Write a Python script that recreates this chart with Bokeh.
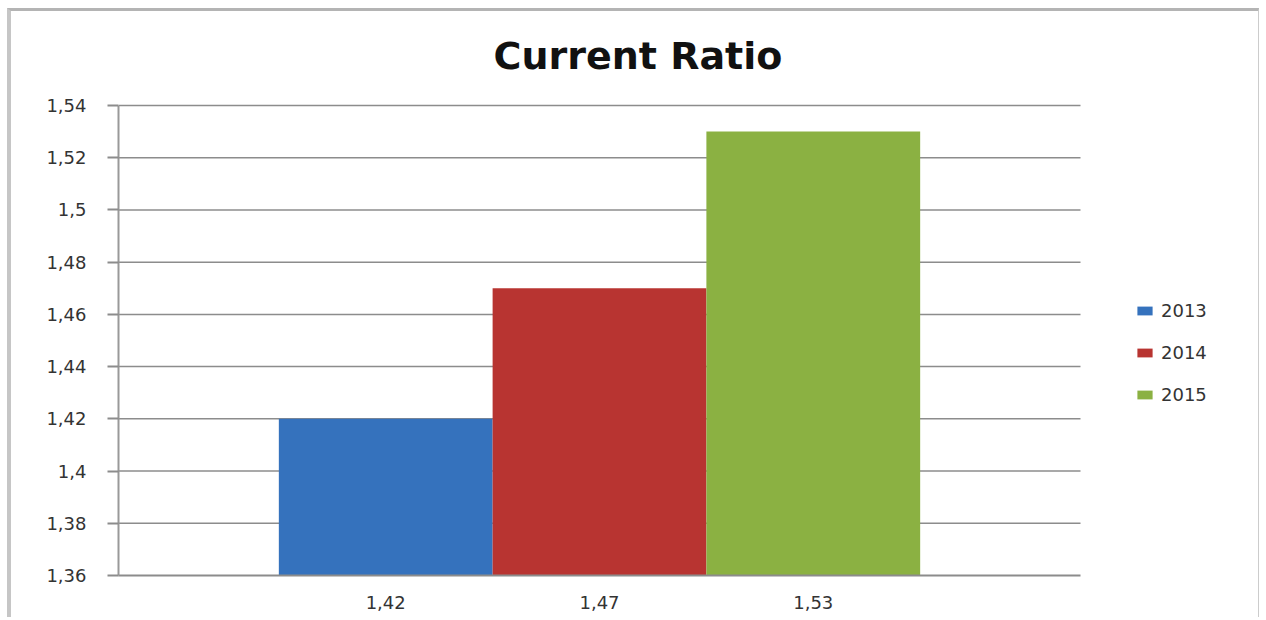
from bokeh.plotting import figure
from bokeh.models import Range1d, FixedTicker, Legend, LegendItem, ColumnDataSource, Label
from bokeh.embed import file_html
from bokeh.resources import INLINE

# ---- data ----
title_text = "Current Ratio"
years = ["2013", "2014", "2015"]
values = [1.42, 1.47, 1.53]
x_labels = ["1,42", "1,47", "1,53"]
colors = ["#3572bd", "#b83431", "#8bb142"]
y_ticks = [1.36, 1.38, 1.40, 1.42, 1.44, 1.46, 1.48, 1.50, 1.52, 1.54]
y_tick_labels = ["1,36", "1,38", "1,4", "1,42", "1,44", "1,46", "1,48", "1,5", "1,52", "1,54"]
y_min, y_max = 1.36, 1.54

# ---- layout constants ----
centers = [1.25, 2.25, 3.25]   # clustered bars, gap width ~150%
bar_w = 1.0
plot_end = 4.5                 # end of the category area
view_end = 5.356               # frame extends right to hold the legend
view_top = 1.576               # frame extends up to hold the title
title_x, title_y = 2.43, 1.5588

p = figure(width=1252, height=609, output_backend="svg", toolbar_location=None,
           x_range=Range1d(0, view_end), y_range=Range1d(y_min, view_top),
           min_border_left=107, min_border_right=0, min_border_top=0, min_border_bottom=45)
p.styles = {"border-top": "3px solid #b4b4b4", "border-left": "4px solid #c6c6c6",
            "border-right": "1px solid #cccccc", "margin-left": "7px", "margin-top": "8px"}

p.outline_line_color = None
p.background_fill_color = "white"
p.border_fill_color = "white"

p.add_layout(Label(x=title_x, y=title_y, text=title_text, text_align="center",
                   text_baseline="alphabetic", text_font="DejaVu Sans",
                   text_font_style="bold", text_font_size="38px", text_color="#111111"))

# horizontal gridlines limited to the category area
grid_src = ColumnDataSource(dict(y=y_ticks[1:], x0=[0] * (len(y_ticks) - 1),
                                 x1=[plot_end] * (len(y_ticks) - 1)))
p.segment(x0="x0", y0="y", x1="x1", y1="y", source=grid_src,
          line_color="#8c8c8c", line_width=1.5)

renderers = []
for c, v, col in zip(centers, values, colors):
    src = ColumnDataSource(dict(x=[c], top=[v]))
    r = p.vbar(x="x", top="top", bottom=y_min, width=bar_w, source=src,
               fill_color=col, line_color=None)
    renderers.append(r)

# y axis
p.yaxis.bounds = (y_min, y_max)
p.yaxis.ticker = FixedTicker(ticks=y_ticks)
p.yaxis.major_label_overrides = {t: l for t, l in zip(y_ticks, y_tick_labels)}
p.yaxis.axis_line_color = "#999999"
p.yaxis.axis_line_width = 2
p.yaxis.major_tick_line_color = "#8c8c8c"
p.yaxis.major_tick_line_width = 2
p.yaxis.major_tick_out = 11
p.yaxis.major_tick_in = 0
p.yaxis.minor_tick_line_color = None
p.yaxis.major_label_standoff = 21
p.yaxis.major_label_text_font = "DejaVu Sans"
p.yaxis.major_label_text_font_size = "18px"
p.yaxis.major_label_text_color = "#333333"

# x axis
p.xaxis.bounds = (0, plot_end)
p.xaxis.ticker = FixedTicker(ticks=centers)
p.xaxis.major_label_overrides = {c: l for c, l in zip(centers, x_labels)}
p.xaxis.axis_line_color = "#8c8c8c"
p.xaxis.axis_line_width = 2
p.xaxis.major_tick_line_color = None
p.xaxis.minor_tick_line_color = None
p.xaxis.major_label_standoff = 14
p.xaxis.major_label_text_font = "DejaVu Sans"
p.xaxis.major_label_text_font_size = "18px"
p.xaxis.major_label_text_color = "#333333"

p.xgrid.grid_line_color = None
p.ygrid.grid_line_color = None

legend = Legend(items=[LegendItem(label=y, renderers=[r]) for y, r in zip(years, renderers)],
                location=(1017, 170), orientation="vertical")
legend.border_line_color = None
legend.background_fill_alpha = 0
legend.padding = 0
legend.margin = 0
legend.spacing = 21
legend.glyph_width = 19
legend.glyph_height = 11
legend.label_height = 20
legend.label_standoff = 7
legend.label_text_font = "DejaVu Sans"
legend.label_text_font_size = "18px"
legend.label_text_color = "#333333"
p.add_layout(legend, "center")

open("out.html", "w").write(file_html(p, INLINE))
